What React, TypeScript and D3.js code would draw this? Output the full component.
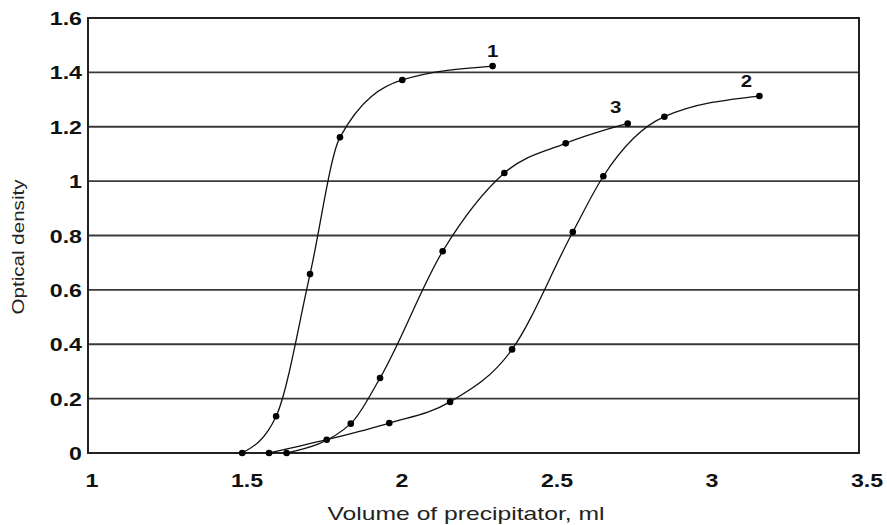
import React from "react";
import * as d3 from "d3";

// Optical density vs. volume of precipitator, three titration curves
const curve1X = [1.5, 1.61, 1.72, 1.817, 2.019, 2.312];
const curve1Y = [0, 0.135, 0.658, 1.161, 1.372, 1.423];

const curve2X = [1.587, 1.774, 1.977, 2.174, 2.375, 2.572, 2.671, 2.869, 3.177];
const curve2Y = [0, 0.049, 0.11, 0.188, 0.381, 0.813, 1.018, 1.237, 1.313];

const curve3X = [1.644, 1.852, 1.947, 2.15, 2.35, 2.549, 2.75];
const curve3Y = [0, 0.108, 0.276, 0.742, 1.03, 1.139, 1.212];

const curveNames = ["1", "2", "3"];

const xTicks = [1, 1.5, 2, 2.5, 3, 3.5];
const yTicks = [0, 0.2, 0.4, 0.6, 0.8, 1, 1.2, 1.4, 1.6];

const xTitle = "Volume of precipitator, ml";
const yTitle = "Optical density";

const W = 887;
const H = 525;
const margin = { left: 88, right: 28, top: 18, bottom: 72 };
const FONT = "'Liberation Sans', Arial, Helvetica, sans-serif";

export default function App() {
  const x = d3.scaleLinear().domain([1, 3.5]).range([margin.left, W - margin.right]);
  const y = d3.scaleLinear().domain([0, 1.6]).range([H - margin.bottom, margin.top]);
  // tick labels sit slightly right of their ticks, spreading toward the right edge
  const xLabel = d3.scaleLinear().domain([1, 3.5]).range([margin.left + 4, W - margin.right + 8]);

  const series = [
    { xs: curve1X, ys: curve1Y, name: curveNames[0], dx: 0, dy: -9 },
    { xs: curve2X, ys: curve2Y, name: curveNames[1], dx: -13, dy: -9 },
    { xs: curve3X, ys: curve3Y, name: curveNames[2], dx: -12, dy: -10 },
  ];

  const line = d3
    .line<[number, number]>()
    .x((d) => x(d[0]))
    .y((d) => y(d[1]))
    .curve(d3.curveMonotoneX);

  const fmt = (v: number) => (Number.isInteger(v) ? String(v) : String(v));

  return (
    <svg
      width={W}
      height={H}
      style={{ position: "absolute", left: 0, top: 0, background: "#fff" }}
      fontFamily={FONT}
    >
      {/* horizontal grid */}
      {yTicks.map((t) => (
        <line
          key={"g" + t}
          x1={x(1)}
          x2={x(3.5)}
          y1={y(t)}
          y2={y(t)}
          stroke="#3a3a3a"
          strokeWidth={1.8}
        />
      ))}
      {/* frame */}
      <rect
        x={x(1)}
        y={y(1.6)}
        width={x(3.5) - x(1)}
        height={y(0) - y(1.6)}
        fill="none"
        stroke="#222"
        strokeWidth={2}
      />
      {/* y tick labels */}
      {yTicks.map((t) => (
        <text
          key={"yl" + t}
          transform={`translate(${x(1) - 6},${y(t) + 7}) scale(1.22,1)`}
          textAnchor="end"
          fontWeight="bold"
          fontSize={19}
          fill="#111"
        >
          {fmt(t)}
        </text>
      ))}
      {/* x tick labels */}
      {xTicks.map((t) => (
        <text
          key={"xl" + t}
          transform={`translate(${xLabel(t)},${y(0) + 34}) scale(1.22,1)`}
          textAnchor="middle"
          fontWeight="bold"
          fontSize={19}
          fill="#111"
        >
          {fmt(t)}
        </text>
      ))}
      {/* curves */}
      {series.map((s) => {
        const pts = s.xs.map((v, i) => [v, s.ys[i]] as [number, number]);
        const last = pts[pts.length - 1];
        return (
          <g key={"s" + s.name}>
            <path d={line(pts) || ""} fill="none" stroke="#111" strokeWidth={1.3} />
            {pts.map((p, i) => (
              <circle key={i} cx={x(p[0])} cy={y(p[1])} r={3.3} fill="#000" />
            ))}
            <text
              transform={`translate(${x(last[0]) + s.dx},${y(last[1]) + s.dy}) scale(1.2,1)`}
              textAnchor="middle"
              fontWeight="bold"
              fontSize={17}
              fill="#111"
            >
              {s.name}
            </text>
          </g>
        );
      })}
      {/* axis titles */}
      <text
        x={466}
        y={520}
        textAnchor="middle"
        fontSize={19}
        fill="#222"
        textLength={277}
        lengthAdjust="spacingAndGlyphs"
      >
        {xTitle}
      </text>
      <text
        transform={`translate(24,247) rotate(-90)`}
        textAnchor="middle"
        fontSize={17}
        fill="#222"
        textLength={135}
        lengthAdjust="spacingAndGlyphs"
      >
        {yTitle}
      </text>
    </svg>
  );
}
